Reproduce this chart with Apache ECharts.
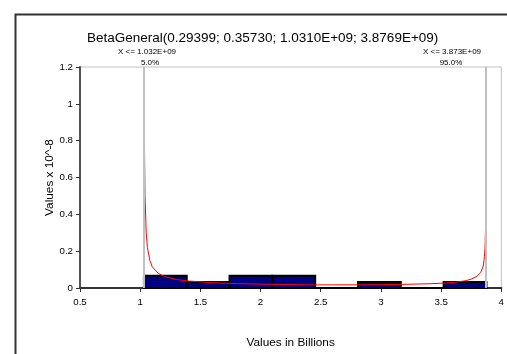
<!DOCTYPE html>
<html>
<head>
<meta charset="utf-8">
<script src="https://cdn.jsdelivr.net/npm/echarts@6/dist/echarts.min.js"></script>
<style>html,body{margin:0;padding:0;background:#fff;}#c{width:507px;height:354px;}</style>
</head>
<body>
<div id="c"></div>
<script>
// ---- data ----
const titleText = 'BetaGeneral(0.29399; 0.35730; 1.0310E+09; 3.8769E+09)';
const xTicks = [0.5, 1, 1.5, 2, 2.5, 3, 3.5, 4];
const yTicks = [0, 0.2, 0.4, 0.6, 0.8, 1, 1.2];
const binStart = [1.031, 1.3867, 1.7424, 2.0981, 2.4538, 2.8095, 3.1652, 3.5209];
const binEnd   = [1.3867, 1.7424, 2.0981, 2.4538, 2.8095, 3.1652, 3.5209, 3.8766];
const binValue = [0.066, 0.033, 0.066, 0.066, 0, 0.033, 0, 0.033];
const curveX = [1.0328, 1.036, 1.04, 1.05, 1.06, 1.08, 1.1, 1.15, 1.2, 1.3, 1.4, 1.6, 1.8, 2.0, 2.2, 2.4, 2.6, 2.8, 3.0, 3.2, 3.4, 3.5, 3.6, 3.7, 3.75, 3.8, 3.83, 3.85, 3.86, 3.865, 3.87, 3.873, 3.875, 3.8762];
const curveY = [1.2, 0.75, 0.5, 0.3, 0.22, 0.15, 0.115, 0.08, 0.063, 0.046, 0.038, 0.029, 0.024, 0.021, 0.019, 0.017, 0.017, 0.017, 0.018, 0.02, 0.023, 0.026, 0.03, 0.039, 0.048, 0.065, 0.085, 0.12, 0.17, 0.22, 0.35, 0.55, 0.9, 1.2];
const markerX = [1.032, 3.873];
const markerTop = ['X <= 1.032E+09', 'X <= 3.873E+09'];
const markerPct = ['5.0%', '95.0%'];
const xName = 'Values in Billions';
const yName = 'Values x 10^-8';

const bins = binStart.map((s, i) => [s, binEnd[i], binValue[i]]);
const curve = curveX.map((x, i) => [x, curveY[i]]);

const chart = echarts.init(document.getElementById('c'), null, {renderer: 'canvas'});
const FONT = 'Liberation Sans, Arial, sans-serif';
chart.setOption({
  animation: false,
  backgroundColor: '#ffffff',
  title: {
    text: titleText, left: 82, top: 26,
    textStyle: {fontFamily: FONT, fontSize: 13.5, fontWeight: 'normal', color: '#000'}
  },
  grid: {left: 80, right: 4, top: 67, bottom: 65, show: true, borderColor: '#c0c0c0', borderWidth: 1},
  xAxis: {
    type: 'value', min: xTicks[0], max: xTicks[xTicks.length - 1], interval: 0.5,
    name: xName, nameLocation: 'middle', nameGap: 49, nameMoveOverlap: false,
    nameTextStyle: {fontFamily: FONT, fontSize: 11.8, color: '#000'},
    axisLine: {show: true, lineStyle: {color: '#333', width: 2}},
    axisTick: {show: true, length: 4, lineStyle: {color: '#333'}},
    axisLabel: {fontFamily: FONT, fontSize: 9.7, color: '#000', margin: 9},
    splitLine: {show: false}
  },
  yAxis: {
    type: 'value', min: yTicks[0], max: yTicks[yTicks.length - 1], interval: 0.2,
    name: yName, nameLocation: 'middle', nameGap: 24, nameRotate: 90, nameMoveOverlap: false,
    nameTextStyle: {fontFamily: FONT, fontSize: 11.8, color: '#000'},
    axisLine: {show: true, lineStyle: {color: '#555', width: 2}},
    axisTick: {show: true, length: 4, lineStyle: {color: '#333'}},
    axisLabel: {fontFamily: FONT, fontSize: 9.7, color: '#000', margin: 7},
    splitLine: {show: false}
  },
  graphic: [
    {type: 'rect', left: 13, top: 12, z: -10, shape: {width: 520, height: 360},
     style: {fill: 'none', stroke: '#333', lineWidth: 2}, silent: true},
    {type: 'text', x: 147, y: 52, style: {text: markerTop[0], font: '8px ' + FONT, fill: '#000', textAlign: 'center', textVerticalAlign: 'middle'}},
    {type: 'text', x: 150, y: 63, style: {text: markerPct[0], font: '8px ' + FONT, fill: '#000', textAlign: 'center', textVerticalAlign: 'middle'}},
    {type: 'text', x: 452, y: 52, style: {text: markerTop[1], font: '8px ' + FONT, fill: '#000', textAlign: 'center', textVerticalAlign: 'middle'}},
    {type: 'text', x: 451, y: 63, style: {text: markerPct[1], font: '8px ' + FONT, fill: '#000', textAlign: 'center', textVerticalAlign: 'middle'}}
  ],
  series: [
    {
      type: 'custom', data: bins, z: 2,
      renderItem: function (params, api) {
        const p0 = api.coord([api.value(0), api.value(2)]);
        const p1 = api.coord([api.value(1), 0]);
        return {
          type: 'rect',
          shape: {x: p0[0], y: p0[1], width: p1[0] - p0[0], height: p1[1] - p0[1]},
          style: {fill: '#000080', stroke: '#000', lineWidth: 2}
        };
      }
    },
    {
      type: 'line', data: curve, showSymbol: false, symbol: 'none', z: 3,
      lineStyle: {color: '#ff0000', width: 1}, clip: true,
      markLine: {
        silent: true, symbol: 'none', z: 4,
        lineStyle: {color: '#c0c0c0', width: 2, type: 'solid'},
        label: {show: false},
        data: markerX.map(v => ({xAxis: v}))
      }
    }
  ]
});
</script>
</body>
</html>
